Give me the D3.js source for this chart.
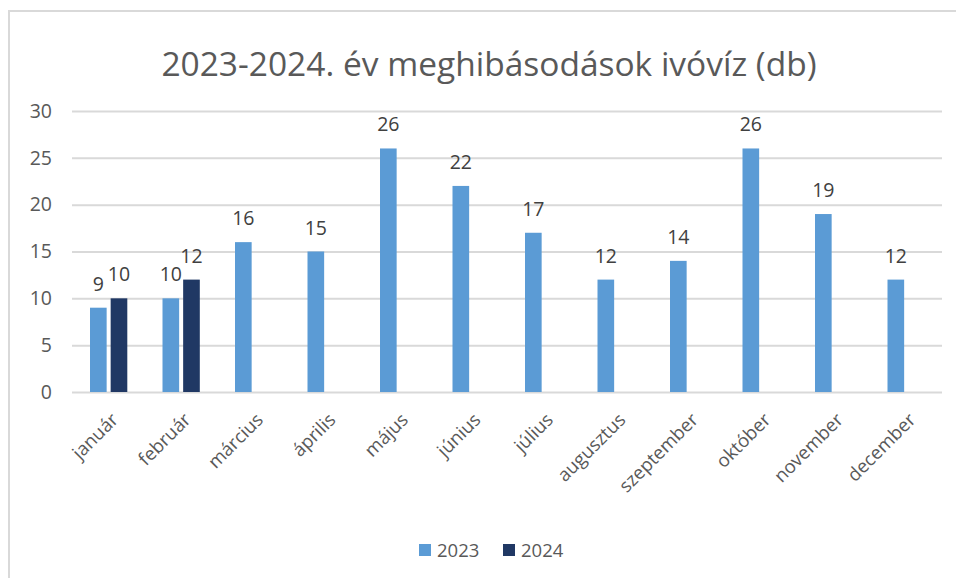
<!DOCTYPE html>
<html>
<head>
<meta charset="utf-8">
<script src="https://cdn.jsdelivr.net/npm/d3@7"></script>
<style>
  body { margin: 0; background: #fff; }
  svg { display: block; font-family: "Open Sans", "Liberation Sans", sans-serif; }
</style>
</head>
<body>
<svg id="chart" width="956" height="578"></svg>
<script>
"use strict"

const months = ["január", "február", "március", "április", "május", "június",
    "július", "augusztus", "szeptember", "október", "november", "december"];
const seriesNames = ["2023", "2024"];
const values2023 = [9, 10, 16, 15, 26, 22, 17, 12, 14, 26, 19, 12];
const values2024 = [10, 12, null, null, null, null, null, null, null, null, null, null];
const yTicks = [0, 5, 10, 15, 20, 25, 30];
const colors = ["#5b9bd5", "#203864"];
const font = "'Open Sans', 'Liberation Sans', sans-serif";

let svg = d3.select("#chart");

// Chart frame (runs off the right and bottom edge of the picture)
svg.append("rect")
    .attr("x", 9).attr("y", 11)
    .attr("width", 1000).attr("height", 1000)
    .style("fill", "none")
    .style("stroke", "#d9d9d9")
    .style("stroke-width", 2);

let plot = {left: 72, right: 942, top: 111, bottom: 392};

let x = d3.scaleBand().domain(months).range([plot.left, plot.right]);
// 2023 and 2024 bars side by side inside each month band
let xs = d3.scaleBand().domain(seriesNames).range([18, 55.3]).paddingInner(0.194);
let y = d3.scaleLinear().domain([0, 30]).range([plot.bottom, plot.top]);

// Title
svg.append("text")
    .attr("x", 489).attr("y", 76)
    .attr("text-anchor", "middle")
    .style("font-size", "33.5px")
    .style("fill", "#595959")
    .text("2023-2024. év meghibásodások ivóvíz (db)");

// Gridlines and y labels
let yAxis = d3.axisLeft(y).tickValues(yTicks).tickSize(-(plot.right - plot.left)).tickPadding(20);
let gy = svg.append("g").attr("transform", "translate(" + plot.left + ",0)").call(yAxis);
gy.select(".domain").remove();
gy.selectAll("line").style("stroke", "#d9d9d9").style("stroke-width", 2);
gy.selectAll("text")
    .style("font-size", "19.5px")
    .style("fill", "#595959")
    .style("font-family", font);

// x labels, rotated
let xAxis = d3.axisBottom(x).tickSize(0).tickPadding(0);
let gx = svg.append("g").attr("transform", "translate(0," + plot.bottom + ")").call(xAxis);
gx.select(".domain").remove();
gx.selectAll("text")
    .attr("text-anchor", "end")
    .attr("y", 0)
    .attr("dy", 0)
    .attr("transform", "translate(11,29) rotate(-45)")
    .style("font-size", "18.5px")
    .style("fill", "#595959")
    .style("font-family", font);

// Bars
let rows = [];
months.forEach(function(m, i) {
    rows.push({month: m, series: "2023", value: values2023[i]});
    if (values2024[i] != null) rows.push({month: m, series: "2024", value: values2024[i]});
});

svg.append("g").selectAll("rect").data(rows).enter().append("rect")
    .attr("x", function(d) { return x(d.month) + xs(d.series); })
    .attr("width", xs.bandwidth())
    .attr("y", function(d) { return y(d.value); })
    .attr("height", function(d) { return y(0) - y(d.value); })
    .style("fill", function(d) { return colors[seriesNames.indexOf(d.series)]; });

// Value labels
svg.append("g").selectAll("text").data(rows).enter().append("text")
    .attr("x", function(d) { return x(d.month) + xs(d.series) + xs.bandwidth() / 2; })
    .attr("y", function(d) { return y(d.value) - 17; })
    .attr("text-anchor", "middle")
    .style("font-size", "19.5px")
    .style("fill", "#404040")
    .text(function(d) { return d.value; });

// Legend
let legend = svg.append("g").attr("transform", "translate(419,544)");
seriesNames.forEach(function(s, i) {
    let g = legend.append("g").attr("transform", "translate(" + (i * 84) + ",0)");
    g.append("rect").attr("width", 12).attr("height", 12).style("fill", colors[i]);
    g.append("text")
        .attr("x", 18).attr("y", 13)
        .style("font-size", "18.5px")
        .style("fill", "#595959")
        .text(s);
});
</script>
</body>
</html>
